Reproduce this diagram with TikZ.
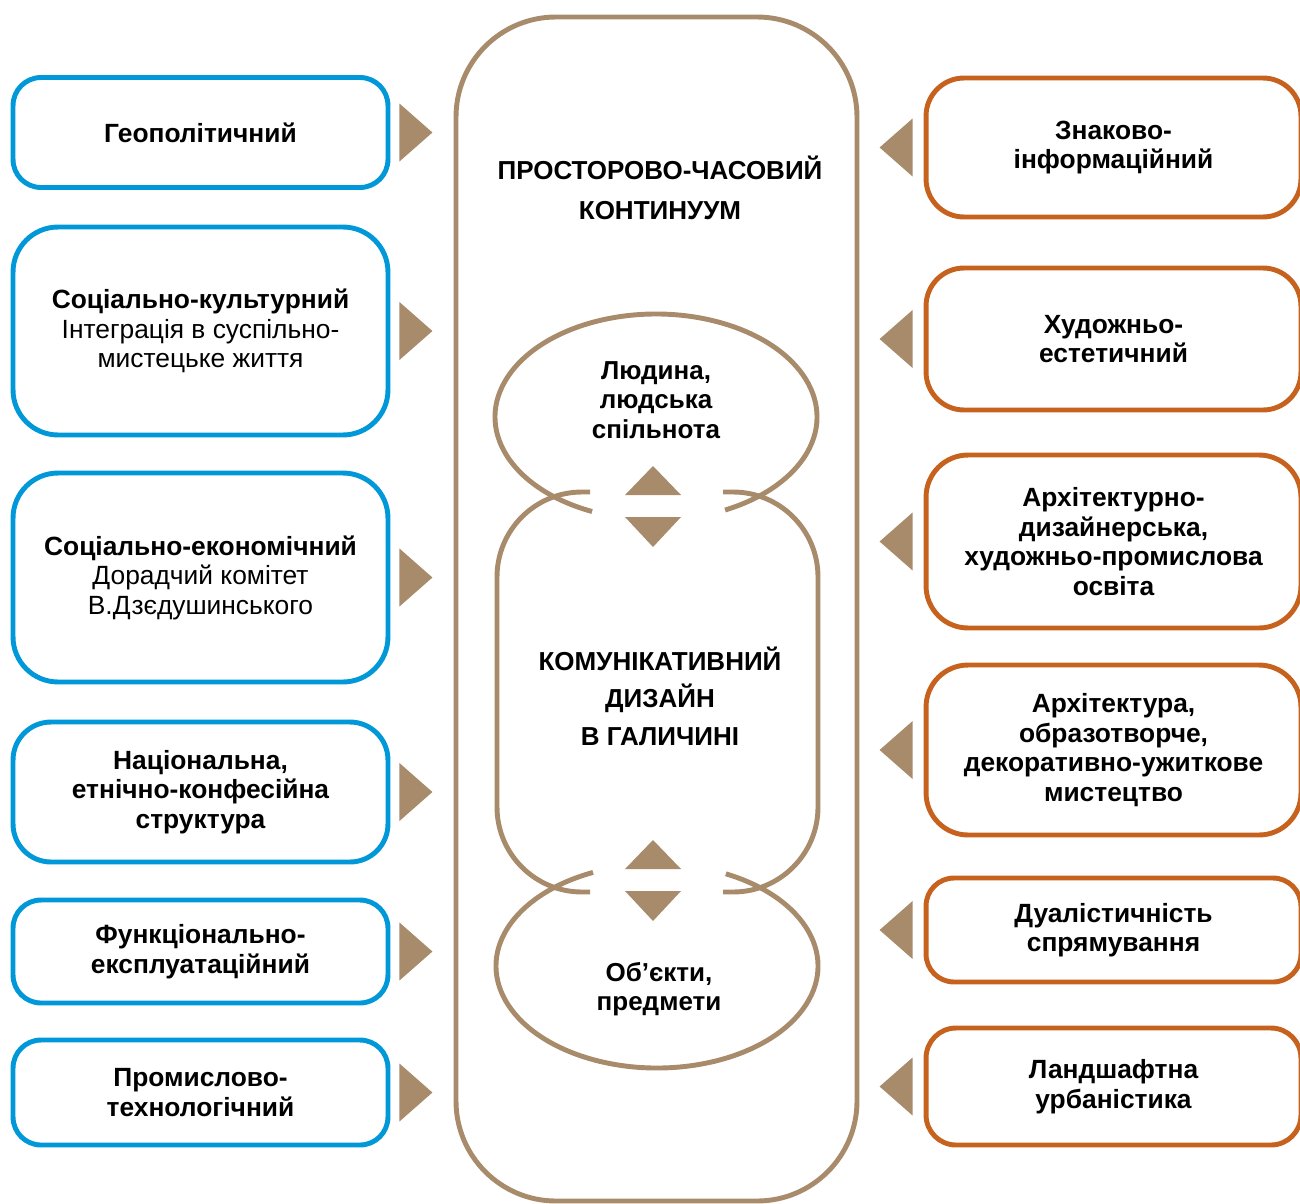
\documentclass[tikz,border=0pt]{standalone}
\usepackage{fontspec}
\setmainfont{Liberation Sans}
\definecolor{lblue}{RGB}{0,152,216}
\definecolor{rorange}{RGB}{198,98,30}
\definecolor{taupe}{RGB}{168,139,107}
\tikzset{
  factor/.style={line width=2.8pt, fill=white, minimum width=7.5cm, inner sep=0pt, align=center, font=\fontsize{15}{16.8}\selectfont\bfseries},
  lbox/.style={factor, draw=lblue},
  rbox/.style={factor, draw=rorange},
  tline/.style={draw=taupe, line width=2.8pt},
  ctext/.style={align=center, font=\fontsize{14.8}{16.8}\selectfont\bfseries}
}
\begin{document}
\begin{tikzpicture}[x=0.02cm, y=-0.02cm, line join=round]
  \useasboundingbox (0,0) rectangle (1300,1203);
  \path
  (656,417) coordinate (P)
  (657,966) coordinate (O)
  ;
  \draw[tline, rounded corners=2cm] (456,17) rectangle (857,1201);
  \node[ctext] (cont) at (660,188) {ПРОСТОРОВО-ЧАСОВИЙ\\[6pt]КОНТИНУУМ};
  \draw[tline] (P) ++(113.4:161 and 103) arc[start angle=113.4, end angle=424.6, x radius=161, y radius=103];
  \draw[tline] (O) ++(295.3:161 and 102) arc[start angle=295.3, end angle=606.6, x radius=161, y radius=102];
  \draw[tline, rounded corners=1.7cm] (590,492) -- (497,492) -- (497,892) -- (590,892);
  \draw[tline, rounded corners=1.7cm] (723,492) -- (818,492) -- (818,892) -- (723,892);
  \node[ctext] (pers) at (656,400) {Людина,\\людська\\спільнота};
  \node[ctext] (obj) at (659,989) {Об’єкти,\\предмети};
  \node[ctext] (comm) at (660,696) {КОМУНІКАТИВНИЙ\\[4.5pt]ДИЗАЙН\\[4.5pt]В ГАЛИЧИНІ};
  \foreach \y in {495,869}{
    \fill[taupe] (653,\y-29) -- (681,\y) -- (625,\y) -- cycle;
    \fill[taupe] (625,\y+22) -- (681,\y+22) -- (653,\y+52) -- cycle;
  }
  \foreach \n/\y/\h/\r/\t in {
    geo/132.5/2.2/0.56/{Геополітичний},
    soccult/331/4.16/0.9/{Соціально-культурний\\{\mdseries Інтеграція в суспільно-}\\{\mdseries мистецьке життя}},
    socecon/577.5/4.18/0.9/{Соціально-економічний\\{\mdseries Дорадчий комітет}\\{\mdseries В.Дзєдушинського}},
    nat/792/2.8/0.76/{Національна,\\етнічно-конфесійна\\структура},
    func/951.5/2.06/0.56/{Функціонально-\\експлуатаційний},
    prom/1092.5/2.1/0.56/{Промислово-\\технологічний}}{
    \node[lbox, minimum height=\h cm, rounded corners=\r cm] (\n) at (200.5,\y) {\t};
    \fill[taupe] (\n.east) ++(9,-29) -- ++(0,58) -- ++(33,-29) -- cycle;
  }
  \foreach \n/\y/\h/\r/\t in {
    znak/147.5/2.78/0.76/{Знаково-\\інформаційний},
    khud/339/2.84/0.76/{Художньо-\\естетичний},
    arkhosv/541.5/3.46/0.84/{Архітектурно-\\дизайнерська,\\художньо-промислова\\освіта},
    arkhmyst/750/3.4/0.84/{Архітектура,\\образотворче,\\декоративно-ужиткове\\мистецтво},
    dual/930/2.08/0.56/{Дуалістичність\\спрямування},
    land/1086.5/2.34/0.6/{Ландшафтна\\урбаністика}}{
    \node[rbox, minimum height=\h cm, rounded corners=\r cm] (\n) at (1113.5,\y) {\t};
    \fill[taupe] (\n.west) ++(-11,-29) -- ++(0,58) -- ++(-33,-29) -- cycle;
  }
\end{tikzpicture}
\end{document}
